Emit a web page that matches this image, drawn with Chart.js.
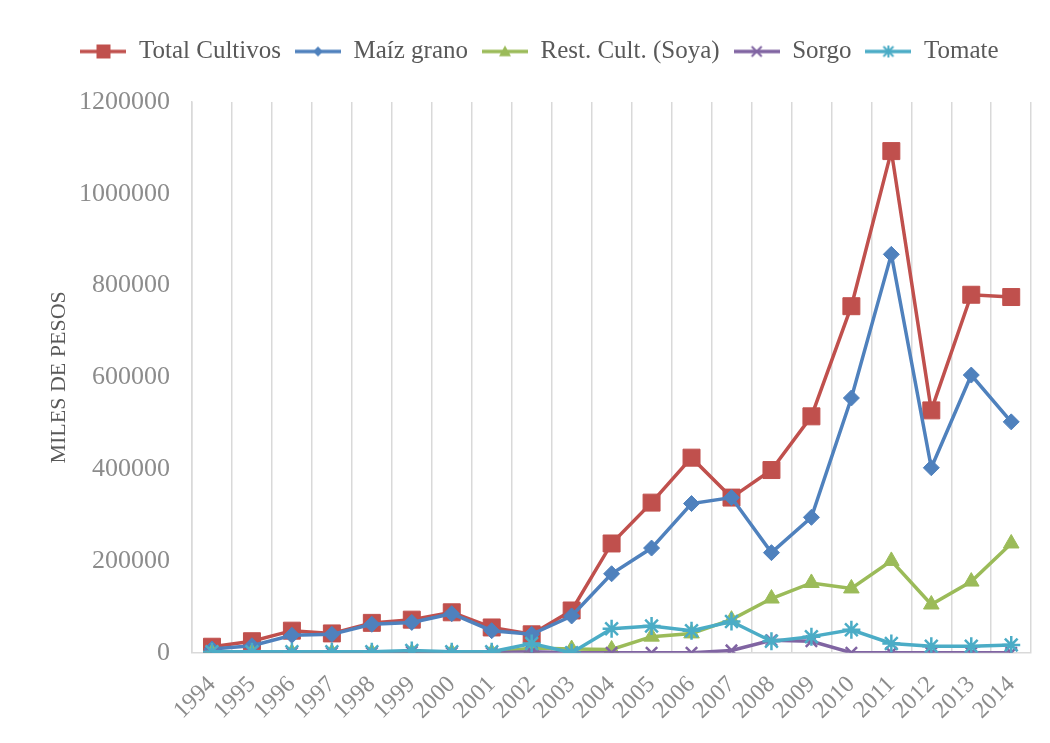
<!DOCTYPE html>
<html>
<head>
<meta charset="utf-8">
<script src="https://cdn.jsdelivr.net/npm/chart.js@4.4.1/dist/chart.umd.min.js"></script>
<style>
  html, body { margin: 0; padding: 0; background: #fff; }
  #wrap { width: 1050px; height: 743px; }
</style>
</head>
<body>
<div id="wrap"><canvas id="chart"></canvas></div>
<script>
// data
const years = ['1994', '1995', '1996', '1997', '1998', '1999', '2000', '2001', '2002', '2003', '2004',
  '2005', '2006', '2007', '2008', '2009', '2010', '2011', '2012', '2013', '2014'];
const totalCultivos = [13000, 25000, 48000, 42000, 65000, 72000, 88000, 55000, 40000, 92000, 238000,
  327000, 425000, 338000, 398000, 515000, 755000, 1093000, 528000, 780000, 775000];
const maizGrano = [8000, 15000, 38000, 40000, 62000, 66000, 85000, 48000, 40000, 80000, 172000,
  228000, 325000, 338000, 218000, 295000, 555000, 868000, 403000, 605000, 503000];
const soya = [0, 0, 0, 0, 0, 0, 0, 0, 10000, 8000, 7000,
  35000, 42000, 72000, 118000, 152000, 140000, 200000, 105000, 155000, 238000];
const sorgo = [0, 0, 0, 0, 0, 2000, 0, 0, 2000, 0, 0,
  0, 0, 5000, 27000, 25000, 0, 0, 0, 0, 0];
const tomate = [2000, 2000, 2000, 2000, 2000, 5000, 2000, 2000, 20000, 0, 52000,
  58000, 48000, 68000, 25000, 35000, 50000, 20000, 14000, 14000, 17000];
const yTicks = [0, 200000, 400000, 600000, 800000, 1000000, 1200000];

const FONT = "'Liberation Serif', serif";

// little line + marker picture for the legend
function legendIcon(color, style, r) {
  const c = document.createElement('canvas');
  c.width = 46; c.height = 20;
  const g = c.getContext('2d');
  const cx = 23, cy = 10;
  g.strokeStyle = color; g.fillStyle = color; g.lineWidth = 3.5;
  g.beginPath(); g.moveTo(0, cy); g.lineTo(46, cy); g.stroke();
  g.beginPath();
  if (style === 'rect') {
    g.fillRect(cx - r, cy - r, 2 * r, 2 * r);
  } else if (style === 'rectRot') {
    g.moveTo(cx, cy - r); g.lineTo(cx + r, cy); g.lineTo(cx, cy + r); g.lineTo(cx - r, cy); g.closePath(); g.fill();
  } else if (style === 'triangle') {
    g.moveTo(cx, cy - r); g.lineTo(cx + r, cy + r * 0.8); g.lineTo(cx - r, cy + r * 0.8); g.closePath(); g.fill();
  } else {
    g.lineWidth = 2;
    g.moveTo(cx - r, cy - r); g.lineTo(cx + r, cy + r);
    g.moveTo(cx + r, cy - r); g.lineTo(cx - r, cy + r);
    if (style === 'star') { g.moveTo(cx, cy - r - 1); g.lineTo(cx, cy + r + 1); }
    g.stroke();
  }
  return c;
}

const series = [
  { label: 'Total Cultivos', data: totalCultivos, color: '#C0504D', style: 'rect', radius: 12, icon: 7, order: 5 },
  { label: 'Maíz grano', data: maizGrano, color: '#4F81BD', style: 'rectRot', radius: 8, icon: 5, order: 4 },
  { label: 'Rest. Cult. (Soya)', data: soya, color: '#9BBB59', style: 'triangle', radius: 9, icon: 6, order: 3 },
  { label: 'Sorgo', data: sorgo, color: '#8064A2', style: 'crossRot', radius: 8, icon: 5, order: 2 },
  { label: 'Tomate', data: tomate, color: '#4BACC6', style: 'star', radius: 9, icon: 5, order: 1 }
];

const datasets = series.map(s => ({
  label: s.label,
  data: s.data,
  borderColor: s.color,
  backgroundColor: s.color,
  borderWidth: 3.5,
  pointStyle: s.style,
  pointRadius: s.radius,
  pointBorderWidth: (s.style === 'crossRot' || s.style === 'star') ? 2.5 : 1,
  pointBackgroundColor: s.color,
  pointBorderColor: s.color,
  order: s.order,
  tension: 0
}));

// extra room under the legend
const legendGap = {
  id: 'legendGap',
  beforeLayout(chart) {
    const lg = chart.legend;
    if (lg && !lg._gapWrapped) {
      const fit = lg.fit;
      lg.fit = function () { fit.call(this); this.height += 28; };
      lg._gapWrapped = true;
    }
  }
};

new Chart(document.getElementById('chart'), {
  type: 'line',
  data: { labels: years, datasets: datasets },
  plugins: [legendGap],
  options: {
    responsive: true,
    maintainAspectRatio: false,
    animation: false,
    layout: { padding: { left: 46, right: 17, top: 25, bottom: 0 } },
    plugins: {
      legend: {
        position: 'top',
        labels: {
          usePointStyle: true,
          pointStyleWidth: 46,
          boxHeight: 20,
          padding: 14,
          color: '#595959',
          font: { family: FONT, size: 25 },
          generateLabels: function (chart) {
            return chart.data.datasets.map((ds, i) => ({
              text: ds.label,
              pointStyle: legendIcon(series[i].color, series[i].style, series[i].icon),
              fillStyle: series[i].color,
              strokeStyle: series[i].color,
              lineWidth: 0,
              hidden: false,
              fontColor: '#595959',
              datasetIndex: i
            }));
          }
        }
      },
      tooltip: { enabled: false }
    },
    scales: {
      x: {
        offset: true,
        grid: { display: true, offset: true, color: '#D9D9D9', lineWidth: 1.5, drawTicks: false },
        border: { display: true, color: '#D9D9D9', width: 1.5 },
        // rotated year labels may hang past the left edge, like the original
        afterFit: axis => { axis.paddingLeft = 0; },
        ticks: {
          autoSkip: false,
          minRotation: 45, maxRotation: 45, padding: 18,
          color: '#8C8C8C', font: { family: FONT, size: 24 }
        }
      },
      y: {
        min: 0, max: 1200000,
        afterBuildTicks: axis => { axis.ticks = yTicks.map(v => ({ value: v })); },
        afterFit: axis => { axis.width = 146; },
        grid: { display: false, drawTicks: false, tickLength: 0 },
        border: { display: true, color: '#D9D9D9', width: 1.5 },
        title: {
          display: true, text: 'MILES DE PESOS', color: '#595959',
          font: { family: FONT, size: 22 }, padding: { top: 0, bottom: 6 }
        },
        ticks: {
          padding: 22, color: '#8C8C8C', font: { family: FONT, size: 26 },
          callback: v => String(v)
        }
      }
    }
  }
});
</script>
</body>
</html>
